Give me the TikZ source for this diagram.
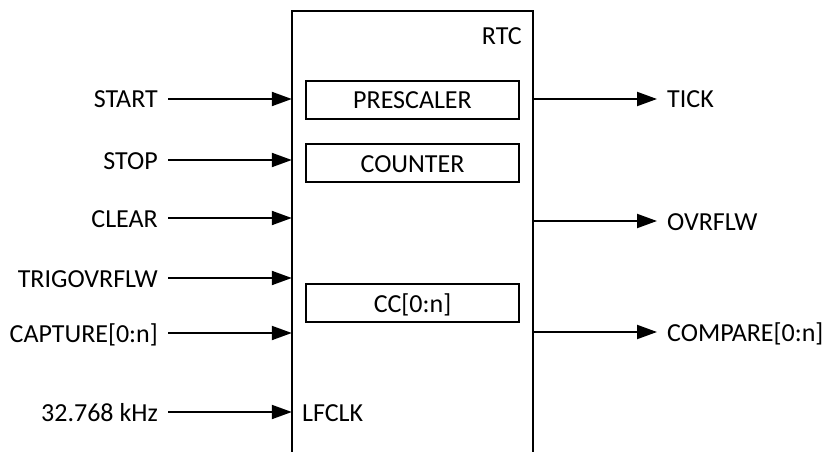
\documentclass[tikz,border=0pt]{standalone}
\usepackage{fontspec}
\setmainfont{Carlito}
\usetikzlibrary{arrows.meta,positioning}

\begin{document}
\begin{tikzpicture}[x=1pt, y=-1pt, >={Triangle[length=20pt,width=14pt]},
    every node/.style={font=\fontsize{26}{30}\selectfont, text height=18pt, text depth=0pt},
    lbl/.style={inner xsep=10pt, inner ysep=0pt},
    sig/.style={->, line width=2pt},
    block/.style={draw, line width=2pt, minimum width=213pt, minimum height=38pt, inner sep=0pt}]
    \useasboundingbox (0,0) rectangle (823,452);

    % RTC peripheral (open at the bottom)
    \node[minimum width=241pt, minimum height=441pt, inner sep=0pt] (rtc) at (412.5,231.5) {};
    \draw[line width=2pt] (rtc.south west) -- (rtc.north west) -- (rtc.north east) -- (rtc.south east);
    \node[lbl, anchor=base east] (rtc_label) at (532,45) {RTC};

    % Internal blocks
    \node[block] (prescaler) at (412.5,100) {PRESCALER};
    \node[block, below=23pt of prescaler] (counter) {COUNTER};
    \node[block, below=100pt of counter] (cc) {CC[0:n]};

    % Tasks (inputs)
    \node[lbl, anchor=east] (start_label) at (168,99) {START};
    \draw[sig] (start_label.east) -- (start_label -| rtc.west);

    \node[lbl, anchor=east] (stop_label) at (168,160) {STOP};
    \draw[sig] (stop_label.east) -- (stop_label -| rtc.west);

    \node[lbl, anchor=east] (clear_label) at (168,218) {CLEAR};
    \draw[sig] (clear_label.east) -- (clear_label -| rtc.west);

    \node[lbl, anchor=east] (trig_label) at (168,278) {TRIGOVRFLW};
    \draw[sig] (trig_label.east) -- (trig_label -| rtc.west);

    \node[lbl, anchor=east] (capture_label) at (168,333) {CAPTURE[0:n]};
    \draw[sig] (capture_label.east) -- (capture_label -| rtc.west);

    % Clock input
    \node[lbl, anchor=east] (clk_label) at (168,412) {32.768 kHz};
    \draw[sig] (clk_label.east) -- (clk_label -| rtc.west);
    \node[lbl, anchor=west] (lfclk_label) at (292,412) {LFCLK};

    % Events (outputs)
    \node[lbl, anchor=west] (tick_label) at (657,99) {TICK};
    \draw[sig] (tick_label -| rtc.east) -- (tick_label.west);

    \node[lbl, anchor=west] (ovrflw_label) at (657,221) {OVRFLW};
    \draw[sig] (ovrflw_label -| rtc.east) -- (ovrflw_label.west);

    \node[lbl, anchor=west] (compare_label) at (657,332) {COMPARE[0:n]};
    \draw[sig] (compare_label -| rtc.east) -- (compare_label.west);
\end{tikzpicture}
\end{document}
